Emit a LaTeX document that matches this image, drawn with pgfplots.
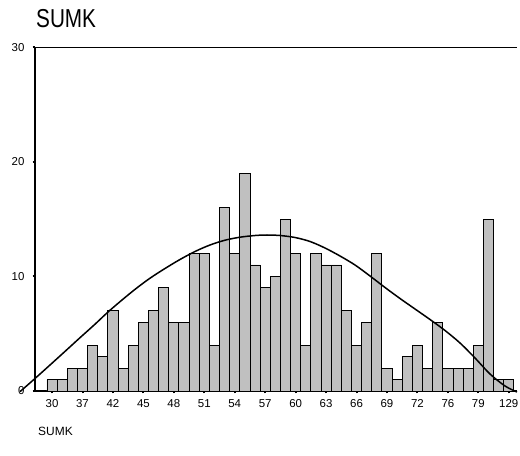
\documentclass[border=0pt]{standalone}
\usepackage{pgfplots}
\pgfplotsset{compat=1.18}
\usepackage{fontspec}
\setmainfont{Liberation Sans}
\definecolor{barfill}{RGB}{192,192,192}
\begin{document}
\begin{tikzpicture}[x=1bp,y=1bp]
\path[use as bounding box] (0,0) rectangle (520,456);
\begin{axis}[
  at={(35bp,65bp)}, anchor=south west,
  scale only axis, width=482bp, height=343.7bp,
  xmin=-0.68, xmax=46.81, ymin=0, ymax=30,
  clip=false,
  axis x line=box, axis y line=left,
  x axis line style={-, line width=1.1bp},
  y axis line style={-, line width=1.1bp},
  xtick={1,4,...,46},
  xticklabels={30,37,42,45,48,51,54,57,60,63,66,69,72,76,79,129},
  ytick={0,10,20,30},
  xtick pos=left, ytick pos=left,
  tick align=outside,
  major tick length=2.5bp,
  every tick/.style={black, line width=2bp},
  /pgf/number format/assume math mode=true,
  tick label style={font=\fontsize{11.5}{12}\selectfont},
  yticklabel style={xshift=-4.5bp},
  xticklabel style={yshift=-2.5bp},
]
\addplot[ybar, bar width=1, bar shift=0pt, fill=barfill, draw=black, line width=0.9bp] coordinates {
(1,1) (2,1) (3,2) (4,2) (5,4) (6,3) (7,7) (8,2) (9,4) (10,6)
(11,7) (12,9) (13,6) (14,6) (15,12) (16,12) (17,4) (18,16) (19,12) (20,19)
(21,11) (22,9) (23,10) (24,15) (25,12) (26,4) (27,12) (28,11) (29,11) (30,7)
(31,4) (32,6) (33,12) (34,2) (35,1) (36,3) (37,4) (38,2) (39,6) (40,2)
(41,2) (42,2) (43,4) (44,15) (45,1) (46,1)
};
\addplot[smooth, black, line width=1.5bp, mark=none] coordinates {
(-2.158,-0.06) (-0.68,1.091) (0.798,2.269) (2.276,3.456) (3.754,4.652)
(5.232,5.830) (6.513,6.895) (7.892,7.943) (9.271,8.938) (10.651,9.846)
(12.128,10.692) (13.606,11.478) (15.084,12.176) (16.562,12.743) (18.040,13.162)
(19.518,13.424) (20.996,13.572) (22.178,13.616) (23.459,13.572) (24.937,13.398)
(26.415,13.049) (27.893,12.482) (29.371,11.783) (30.849,10.998) (32.327,10.038)
(33.805,9.034) (35.282,8.074) (36.760,7.157) (38.238,6.241) (39.716,5.281)
(41.194,4.190) (42.672,2.880) (44.150,1.484) (45.628,0.436) (46.810,-0.087)
};
\end{axis}
\node[anchor=base west, inner sep=0] at (36,428) {\scalebox{0.8}[1]{\fontsize{26}{26}\selectfont SUMK}};
\node[anchor=base west, inner sep=0] at (38,20) {\fontsize{12}{12}\selectfont SUMK};
\end{tikzpicture}
\end{document}
